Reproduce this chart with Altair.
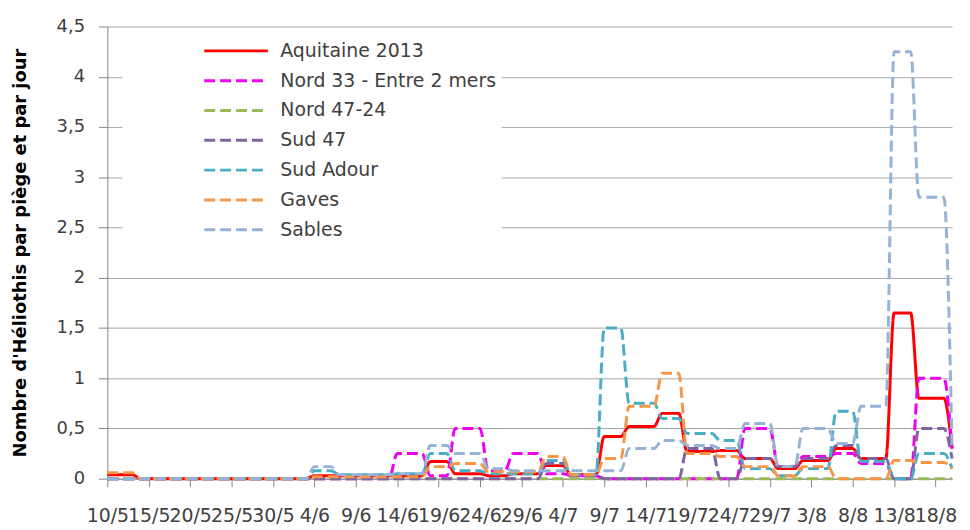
import json
import altair as alt
import pandas as pd

# x axis: days since 10/5 ; tick labels every 5 days
tick_days = list(range(0, 101, 5))
tick_labels = ["10/5", "15/5", "20/5", "25/5", "30/5", "4/6", "9/6", "14/6", "19/6", "24/6",
               "29/6", "4/7", "9/7", "14/7", "19/7", "24/7", "29/7", "3/8", "8/8", "13/8", "18/8"]

# start day of each trapping period (twice a week), and last day of the record
period_start = [0, 4, 7, 11, 14, 18, 21, 25, 28, 32, 35, 39, 42, 46, 49, 53, 56,
                60, 63, 67, 70, 74, 77, 81, 84, 88, 91, 95, 98]
last_day = 102

series = ["Aquitaine 2013", "Nord 33 - Entre 2 mers", "Nord 47-24", "Sud 47",
          "Sud Adour", "Gaves", "Sables"]

aquitaine = [0.04, 0, 0, 0, 0, 0, 0, 0.03, 0.03, 0.03, 0.03, 0.17, 0.05, 0.03, 0.05, 0.13, 0.04,
             0.42, 0.52, 0.65, 0.27, 0.28, 0.2, 0.1, 0.18, 0.3, 0.2, 1.65, 0.8]
nord33 = [0, 0, 0, 0, 0, 0, 0, 0, 0, 0, 0.25, 0.03, 0.5, 0.08, 0.25, 0.05, 0.03,
          0, 0, 0, 0, 0, 0.5, 0.12, 0.22, 0.25, 0.15, 0, 1.0]
nord4724 = [0, 0, 0, 0, 0, 0, 0, 0, 0, 0, 0, 0, 0, 0, 0, 0, 0,
            0, 0, 0, 0, 0, 0, 0, 0, 0, 0, 0, 0]
sud47 = [0, 0, 0, 0, 0, 0, 0, 0, 0, 0, 0, 0, 0, 0, 0, 0.15, 0.03,
         0, 0, 0, 0.3, 0, 0.2, 0.12, 0.2, 0.33, 0.2, 0, 0.5]
sud_adour = [0, 0, 0, 0, 0, 0, 0, 0.08, 0.04, 0.04, 0.05, 0.25, 0.08, 0.05, 0.05, 0.18, 0.04,
             1.5, 0.75, 0.6, 0.45, 0.38, 0.1, 0.03, 0.1, 0.67, 0.17, 0, 0.25]
gaves = [0.06, 0, 0, 0, 0, 0, 0, 0.02, 0.02, 0.02, 0.02, 0.12, 0.15, 0.07, 0.07, 0.22, 0.04,
         0.2, 0.72, 1.05, 0.25, 0.22, 0.12, 0.03, 0.12, 0, 0, 0.18, 0.16]
sables = [0, 0, 0, 0, 0, 0, 0, 0.12, 0.04, 0.04, 0.05, 0.33, 0.25, 0.1, 0.08, 0.08, 0.08,
          0.08, 0.3, 0.38, 0.33, 0.3, 0.55, 0.12, 0.5, 0.35, 0.72, 4.25, 2.8]
end_values = [0.3, 0.3, 0, 0.2, 0.1, 0.1, 0.3]

colors = ["#FF0000", "#F000F0", "#9BBB59", "#8064A2", "#4BACC6", "#F79646", "#95B3D7"]
dashes = [[1, 0], [11, 5], [11, 5], [11, 5], [11, 5], [11, 5], [11, 5]]

values = [aquitaine, nord33, nord4724, sud47, sud_adour, gaves, sables]
rows = []
bounds = period_start + [last_day]
for name, vals, endv in zip(series, values, end_values):
    for k, v in enumerate(vals):
        s, e = bounds[k], bounds[k + 1] - 1
        rows.append({"serie": name, "day": s, "value": v})
        if e > s:
            rows.append({"serie": name, "day": e, "value": v})
    rows.append({"serie": name, "day": last_day, "value": endv})
df = pd.DataFrame(rows)

label_expr = json.dumps(tick_labels) + "[round(datum.value / 5)]"
FONT = "DejaVu Sans"

chart = alt.Chart(df).mark_line(interpolate="monotone", strokeWidth=3).encode(
    x=alt.X("day:Q", scale=alt.Scale(domain=[0, last_day], nice=False),
            axis=alt.Axis(values=tick_days, labelExpr=label_expr, title=None, grid=False,
                          tickSize=8, tickColor="#868686", domainColor="#868686",
                          labelFontSize=19, labelFont=FONT, labelColor="#404040",
                          labelPadding=20, labelOverlap=False, labelFlush=False)),
    y=alt.Y("value:Q", scale=alt.Scale(domain=[0, 4.5], nice=False),
            axis=alt.Axis(values=[0, 0.5, 1, 1.5, 2, 2.5, 3, 3.5, 4, 4.5],
                          labelExpr="replace(format(datum.value, '~g'), '.', ',')",
                          title="Nombre d'Héliothis par piège et par jour",
                          titleFont=FONT, titleFontSize=18, titleFontWeight="bold",
                          titleColor="#000000", titlePadding=26, minExtent=52, maxExtent=52,
                          tickSize=9, tickColor="#868686", domainColor="#868686",
                          gridColor="#A6A6A6", labelFontSize=18, labelFont=FONT,
                          labelColor="#404040", labelPadding=14)),
    color=alt.Color("serie:N", scale=alt.Scale(domain=series, range=colors), title=None,
                    legend=alt.Legend(orient="none", legendX=15, legendY=10, fillColor="white",
                                      padding=5, rowPadding=10, symbolType="M-4,0H4",
                                      symbolSize=256, symbolStrokeWidth=3,
                                      symbolOffset=100, labelOffset=35, labelLimit=400,
                                      labelFont=FONT, labelFontSize=19, labelColor="#404040")),
    strokeDash=alt.StrokeDash("serie:N", scale=alt.Scale(domain=series, range=dashes), title=None),
).properties(
    width=850, height=455,
    autosize=alt.AutoSizeParams(type="none"),
    padding={"left": 100, "top": 17, "right": 10, "bottom": 50},
).configure_view(stroke="transparent")

chart.save("out.html", embed_options={"renderer": "svg", "actions": False})
